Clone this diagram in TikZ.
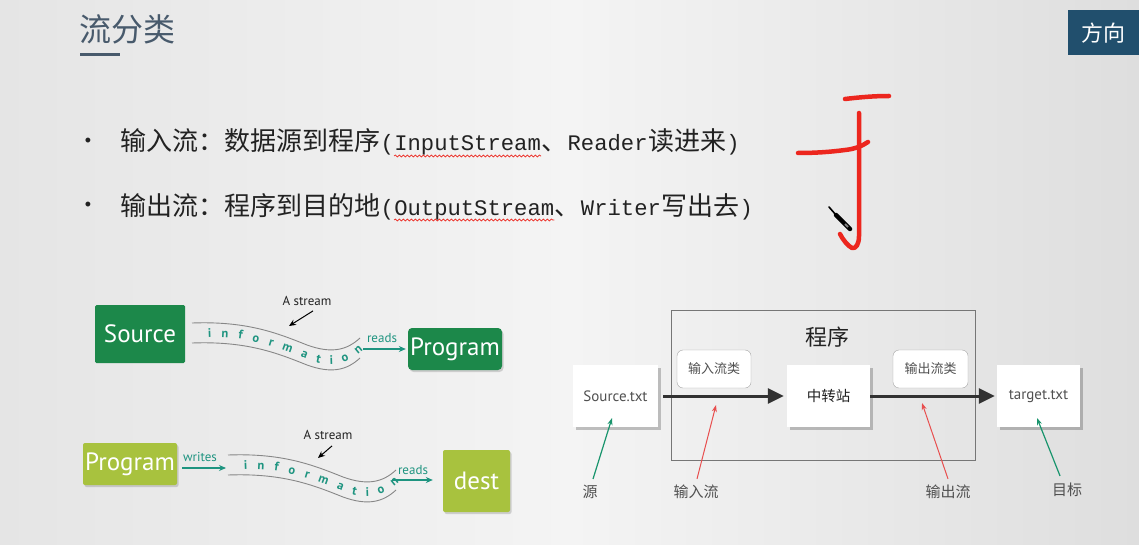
\documentclass[tikz,border=0pt]{standalone}
\usepackage{fontspec}
\setsansfont{PT Sans}
\newfontfamily\cjk{Noto Sans CJK SC}
\newfontfamily\codefont{Liberation Mono}
\newfontfamily\dotfont{Liberation Sans}
\usetikzlibrary{arrows.meta,decorations.text,decorations.pathmorphing,shadows,calc}

\definecolor{bgmid}{RGB}{244,244,244}
\definecolor{bgleft}{RGB}{229,229,229}
\definecolor{bgright}{RGB}{222,222,222}
\definecolor{slate}{RGB}{72,90,108}
\definecolor{navy}{RGB}{33,79,109}
\definecolor{ink}{RGB}{34,34,34}
\definecolor{penred}{RGB}{236,38,30}
\definecolor{srcgreen}{RGB}{28,136,74}
\definecolor{leafgreen}{RGB}{168,194,62}
\definecolor{streamteal}{RGB}{30,148,128}
\definecolor{bandgray}{RGB}{135,135,135}
\definecolor{framegray}{RGB}{118,118,118}
\definecolor{notered}{RGB}{232,78,78}
\definecolor{notegreen}{RGB}{24,148,108}
\definecolor{labelgray}{RGB}{80,80,80}
\definecolor{darkarrow}{RGB}{50,50,50}

\tikzset{
  stream band/.pic={
    \draw[bandgray, line width=0.9pt]
      (0,0) .. controls (55,-2) and (85,10) .. (115,22)
            .. controls (140,31) and (155,27) .. (168,15);
    \draw[bandgray, line width=0.9pt]
      (0,20) .. controls (55,18) and (85,30) .. (115,42)
             .. controls (140,51) and (155,47) .. (168,35);
    \path[decorate, decoration={text along path,
        text={|\sffamily\bfseries\fontsize{12.5}{12.5}\selectfont\color{streamteal}|information},
        text align={fit to path}}]
      (16,14.5) .. controls (55,12.5) and (85,24.5) .. (115,36.5)
              .. controls (140,45.5) and (155,41) .. (171,27);
  }
}

\begin{document}
\begin{tikzpicture}[x=1pt,y=-1pt,
  zh/.style={font=\cjk\fontsize{26}{30}\selectfont, text=ink, inner sep=0, anchor=base west},
  mono/.style={font=\codefont\fontsize{22.2}{30}\selectfont, text=ink, inner sep=0, anchor=base west},
  spell/.style={draw=penred, line width=0.7pt, decorate,
    decoration={snake, amplitude=1pt, segment length=4pt}},
  pen/.style={draw=penred, line width=4.5pt, line cap=round, line join=round},
  bigbox/.style={text=white, font=\sffamily\fontsize{25}{28}\selectfont, inner sep=0},
  streamlabel/.style={font=\sffamily\fontsize{13}{15}\selectfont, text=ink, inner sep=0},
  flowlabel/.style={font=\sffamily\fontsize{13}{15}\selectfont, text=streamteal, inner sep=0},
  flowarrow/.style={draw=streamteal, line width=1.4pt, -{Stealth[length=7pt,width=6pt]}},
  pointer/.style={draw=black, line width=1pt, -{Stealth[length=7pt,width=6pt]}},
  filebox/.style={fill=white, minimum height=62, inner sep=0,
    drop shadow={shadow xshift=2.5pt, shadow yshift=-3pt, fill=black, opacity=0.22}},
  classbox/.style={draw=gray!70, fill=white, rounded corners=6pt, minimum width=74,
    minimum height=38, inner sep=0, font=\cjk\fontsize{13}{15}\selectfont, text=labelgray},
  mainflow/.style={draw=darkarrow, line width=3pt, -{Triangle[length=16pt,width=15pt]}},
  notelabel/.style={font=\cjk\fontsize{15}{17}\selectfont, text=labelgray, inner sep=0},
  rednote/.style={draw=notered, line width=1pt, -{Stealth[length=7pt,width=5pt]}},
  greennote/.style={draw=notegreen, line width=1.2pt, -{Stealth[length=7pt,width=5pt]}}
]
\useasboundingbox (0,0) rectangle (1139,545);
% slide background
\shade[left color=bgleft, right color=bgright, middle color=bgmid] (0,0) rectangle (1139,545);

% heading
\node[anchor=west, inner sep=0, text=slate, font=\cjk\fontsize{32}{36}\selectfont] (title) at (79,29) {流分类};
\draw[slate, line width=3pt] (80,55) -- (120,55);

\node[fill=navy, text=white, font=\cjk\fontsize{22}{24}\selectfont,
      minimum width=71, minimum height=45, inner sep=0, anchor=north west] (dir) at (1068,10) {方向};

% bullet lines
\node[font=\dotfont\fontsize{18}{20}\selectfont, text=ink, inner sep=0] (dot1) at (88,142) {•};
\node[zh] (l1a) at (120,151) {输入流：数据源到程序};
\node[mono] (l1b) at (l1a.base east) {(};
\node[mono] (l1c) at (l1b.base east) {InputStream};
\node[zh] (l1d) at (l1c.base east) {、};
\node[mono] (l1e) at (l1d.base east) {Reader};
\node[zh] (l1f) at (l1e.base east) {读进来};
\node[mono] (l1g) at (l1f.base east) {)};
\draw[spell] ($(l1c.base west)+(0,5)$) -- ($(l1c.base east)+(0,5)$);

\node[font=\dotfont\fontsize{18}{20}\selectfont, text=ink, inner sep=0] (dot2) at (88,206) {•};
\node[zh] (l2a) at (120,215) {输出流：程序到目的地};
\node[mono] (l2b) at (l2a.base east) {(};
\node[mono] (l2c) at (l2b.base east) {OutputStream};
\node[zh] (l2d) at (l2c.base east) {、};
\node[mono] (l2e) at (l2d.base east) {Writer};
\node[zh] (l2f) at (l2e.base east) {写出去};
\node[mono] (l2g) at (l2f.base east) {)};
\draw[spell] ($(l2c.base west)+(0,5)$) -- ($(l2c.base east)+(0,5)$);

% handwritten red strokes
\draw[pen] (845,99) .. controls (862,97) and (875,96) .. (889,96);
\draw[pen] (798,153) .. controls (815,153) and (830,152) .. (845,150)
                    .. controls (855,149) and (862,146) .. (868,142);
\draw[pen] (859,113) -- (859,236) .. controls (859,244) and (856,249) .. (852,248)
                    .. controls (848,246) and (843,240) .. (840,234);
% pen cursor
\draw[black, line width=1.6pt, line cap=round] (829,207) -- (836,215);
\draw[black, line width=4.5pt, line cap=round] (836,215) -- (850,229);
\draw[gray, line width=2pt] (845,224) -- (848,227);

% stream: source -> program
\node[bigbox, fill=srcgreen, minimum width=90, minimum height=58, rounded corners=1.5pt] (src1) at (140,334) {Source};
\node[bigbox, fill=srcgreen, minimum width=94, minimum height=42, rounded corners=4pt,
      drop shadow={shadow xshift=1.5pt, shadow yshift=-2pt, fill=black, opacity=0.15}] (prog1) at (455,349) {Program};
\pic at (192,323) {stream band};
\node[streamlabel] (as1) at (307,301) {A stream};
\coordinate (as1tip) at (289,326);
\draw[pointer] ($(as1.south)+(6,5)$) -- (as1tip);
\node[flowlabel] (rd1) at (382,338) {reads};
\coordinate (band1end) at (363,349);
\draw[flowarrow, shorten >=2pt] (band1end) -- (prog1.west);

% stream: program -> dest
\node[bigbox, fill=leafgreen, minimum width=94, minimum height=42, rounded corners=2pt,
      drop shadow={shadow xshift=1.5pt, shadow yshift=-2pt, fill=black, opacity=0.15}] (prog2) at (130,464) {Program};
\node[bigbox, fill=leafgreen, minimum width=67, minimum height=62, rounded corners=2pt,
      drop shadow={shadow xshift=1.5pt, shadow yshift=-2pt, fill=black, opacity=0.15}] (dest) at (476.5,481) {dest};
\pic at (228,455) {stream band};
\node[streamlabel] (as2) at (328,435) {A stream};
\coordinate (as2tip) at (318,458);
\draw[pointer] ($(as2.south)+(4,6)$) -- (as2tip);
\node[flowlabel] (wr2) at (200,457) {writes};
\coordinate (band2start) at (226,468);
\draw[flowarrow, shorten <=5pt] (prog2.east |- band2start) -- (band2start);
\node[flowlabel] (rd2) at (413,470) {reads};
\coordinate (band2end) at (392,480);
\draw[flowarrow, shorten >=10pt] (band2end) -- (dest.west |- band2end);

% program with input / output streams
\node[draw=framegray, line width=1pt, minimum width=304, minimum height=150, inner sep=0] (prog) at (823,385) {};
\node[font=\cjk\fontsize{22}{24}\selectfont, text=ink, inner sep=0] (progname) at (827,337) {程序};
\node[filebox, minimum width=85, font=\sffamily\fontsize{15}{17}\selectfont, text=labelgray] (srcfile) at (615.5,396) {Source.txt};
\node[filebox, minimum width=83, font=\cjk\fontsize{14.5}{17}\selectfont, text=ink] (relay) at (828.5,396) {中转站};
\node[filebox, minimum width=83, font=\sffamily\fontsize{15}{17}\selectfont, text=labelgray] (tgtfile) at (1038.5,396) {target.txt};
\node[classbox] (inclass) at (714,369) {输入流类};
\node[classbox, minimum width=75] (outclass) at (930.5,369) {输出流类};
\draw[mainflow, shorten <=5pt, shorten >=3pt] (srcfile.east) -- (relay.west);
\draw[mainflow, shorten >=2pt] (relay.east) -- (tgtfile.west);

% annotations
\node[notelabel] (nsrc) at (590,492) {源};
\node[notelabel] (nin) at (696,492) {输入流};
\node[notelabel] (nout) at (948,492) {输出流};
\node[notelabel] (ntgt) at (1067,490) {目标};
\coordinate (srcmark) at (612,418);
\coordinate (inmark) at (716,405);
\coordinate (outmark) at (922,403);
\coordinate (tgtmark) at (1037,418);
\draw[greennote] ($(nsrc.north)+(3,-6)$) -- (srcmark);
\draw[rednote] ($(nin.north)+(1,-6)$) -- (inmark);
\draw[rednote] ($(nout.north)+(0,-6)$) -- (outmark);
\draw[greennote] ($(ntgt.north)+(-7,-7)$) -- (tgtmark);
\end{tikzpicture}
\end{document}
